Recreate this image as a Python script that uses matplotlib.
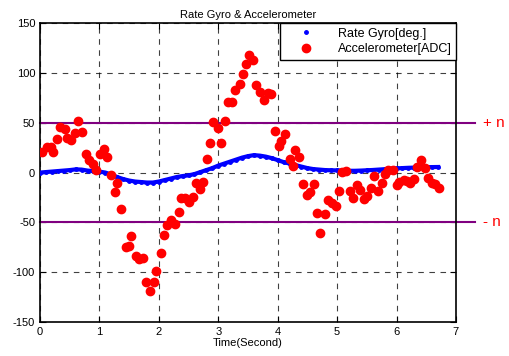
import matplotlib
matplotlib.use("Agg")
import matplotlib.pyplot as plt
import numpy as np

plt.rcParams['font.family'] = ['Liberation Sans', 'DejaVu Sans']
plt.rcParams['axes.unicode_minus'] = False

# accelerometer samples (time [s], ADC)
acc_t = [0.04, 0.11, 0.18, 0.22, 0.28, 0.34, 0.42, 0.46, 0.52, 0.59, 0.64, 0.71,
         0.77, 0.83, 0.89, 0.95, 1.01, 1.07, 1.12, 1.19, 1.26, 1.30, 1.37, 1.44,
         1.50, 1.54, 1.61, 1.67, 1.73, 1.78, 1.85, 1.92, 1.96, 2.03, 2.09, 2.14,
         2.21, 2.27, 2.34, 2.38, 2.44, 2.51, 2.57, 2.63, 2.69, 2.75, 2.81, 2.86,
         2.92, 3.00, 3.04, 3.11, 3.17, 3.23, 3.29, 3.36, 3.42, 3.47, 3.52, 3.59,
         3.64, 3.70, 3.77, 3.83, 3.88, 3.95, 4.02, 4.06, 4.12, 4.20, 4.25, 4.30,
         4.36, 4.43, 4.50, 4.55, 4.61, 4.67, 4.72, 4.79, 4.85, 4.91, 4.98, 5.03,
         5.09, 5.15, 5.21, 5.27, 5.34, 5.38, 5.45, 5.51, 5.57, 5.62, 5.69, 5.75,
         5.81, 5.86, 5.94, 6.00, 6.05, 6.12, 6.17, 6.23, 6.30, 6.35, 6.41, 6.48,
         6.53, 6.59, 6.65, 6.72]
acc_v = [20.7, 25.8, 25.8, 20.7, 34, 46, 44, 35, 32.5, 40, 51.5, 41,
         18.4, 13, 9, 2.3, 18.4, 23.5, 15.7, -2.5, -20, -10.5, -37, -74.5,
         -74, -64, -83.5, -87, -85.5, -109.5, -118.5, -109.5, -98.5, -80.5, -63, -52.5,
         -47.5, -51.5, -40, -26, -26, -29.5, -25, -10.5, -16, -9.5, 14, 30,
         50.5, 45, 30, 52, 71, 71, 83, 88.5, 98.5, 108.5, 118, 113,
         88, 81, 73, 80, 78.5, 42, 27, 32, 39, 13.4, 6.6, 22.5,
         15.7, -11, -23, -19.5, -11, -40.5, -61, -42, -28, -31, -34, -18,
         0.6, 1.6, -19, -26, -12, -17, -27, -24, -15.5, -3.7, -18.5, -10.5,
         -1, 3, 2.3, -12, -9.5, -7.8, -8.5, -10.5, -6, 5.6, 13, 4.6,
         -5, -10.5, -11, -15.5]

# rate gyro (time [s], deg.)
gyro_t = [0.0, 0.1, 0.2, 0.3, 0.4, 0.5, 0.6, 0.7, 0.8, 0.9, 1.0, 1.1, 1.2, 1.3,
          1.4, 1.5, 1.6, 1.7, 1.8, 1.9, 2.0, 2.1, 2.2, 2.3, 2.4, 2.5, 2.6, 2.7,
          2.8, 2.9, 3.0, 3.1, 3.2, 3.3, 3.4, 3.5, 3.6, 3.7, 3.8, 3.9, 4.0, 4.1,
          4.2, 4.3, 4.4, 4.5, 4.6, 4.7, 4.8, 4.9, 5.0, 5.1, 5.2, 5.3, 5.4, 5.5,
          5.6, 5.7, 5.8, 5.9, 6.0, 6.1, 6.2, 6.3, 6.4, 6.5, 6.6, 6.7]
gyro_v = [0, 0.5, 1, 1.5, 2, 2.5, 3.2, 3, 2, 1.5, 1, 0, -2, -4.5,
          -6.5, -8, -9, -9.5, -10, -10, -9, -7.5, -6, -4.5, -3.5, -2.8, -1.5, 0.5,
          2.5, 4.5, 7, 9, 11, 13, 15, 16.5, 17.5, 17, 16, 14.5, 12.5, 10.5,
          9, 7.5, 6, 4.5, 3.5, 3, 2.5, 2.3, 2.2, 2, 1.8, 1.8, 2, 2.3,
          2.6, 3, 3.4, 3.8, 4.2, 4.5, 4.8, 5, 5.2, 5.4, 5.5, 5.6]

noise_level = 50

fig = plt.figure(figsize=(5.1, 3.56), dpi=100)
ax = fig.add_axes([0.0784, 0.0955, 0.8156, 0.8395])

ax.plot(gyro_t, gyro_v, color='blue', lw=3, marker='.', ms=5,
        label='Rate Gyro[deg.]', zorder=3)
ax.plot(acc_t, acc_v, 'o', color='red', ms=6, mec='red',
        label='Accelerometer[ADC]', zorder=4)

for lvl, txt in [(noise_level, '+ n'), (-noise_level, '- n')]:
    ax.plot([0, 7.32], [lvl, lvl], color='purple', lw=1.5, clip_on=False, zorder=2)
    ax.text(7.45, lvl, txt, color='red', fontsize=11, va='center', ha='left')

ax.set_xlim(0, 7)
ax.set_ylim(-150, 150)
ax.set_xticks(range(0, 8))
ax.set_yticks(range(-150, 151, 50))
ax.grid(True, color='black', linestyle=(0, (5, 5)), lw=0.8, alpha=0.75)
ax.tick_params(direction='in', top=True, right=True, labelsize=8, length=4)
for s in ax.spines.values():
    s.set_linewidth(1.2)

ax.set_title('Rate Gyro & Accelerometer', fontsize=8, pad=4)
ax.set_xlabel('Time(Second)', fontsize=8, labelpad=1)

leg = ax.legend(loc='upper right', fontsize=9, fancybox=False, framealpha=1,
                edgecolor='black', borderaxespad=0, handlelength=3.5,
                labelspacing=0.3, borderpad=0.35, markerscale=1.0)
leg.get_frame().set_linewidth(1.0)
leg.legend_handles[0].set_linestyle('none')

fig.savefig('out.png', dpi=100)
